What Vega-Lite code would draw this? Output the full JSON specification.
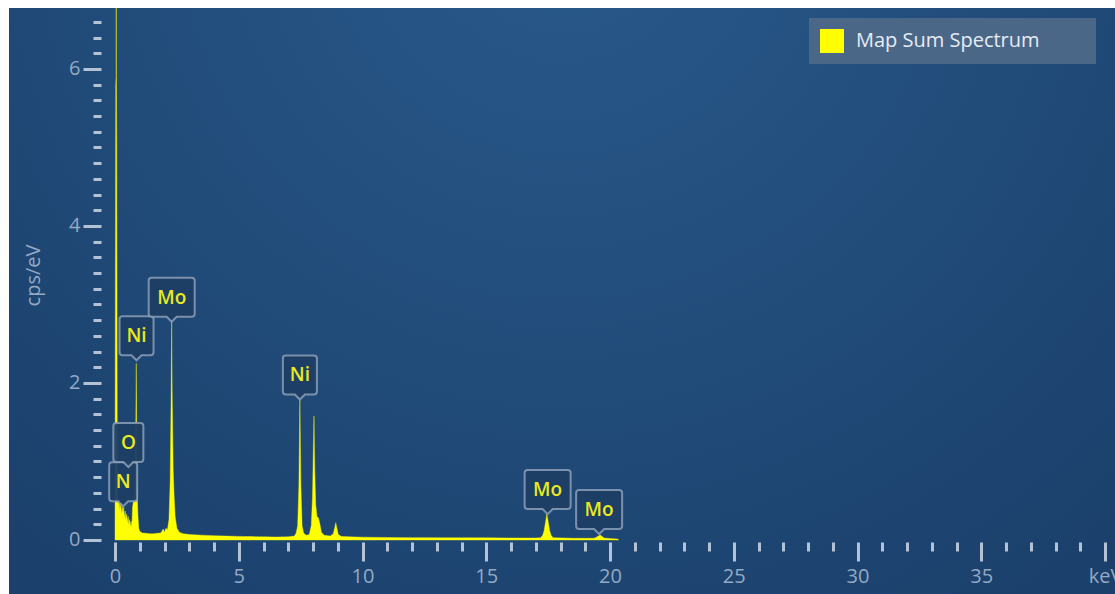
{
  "$schema": "https://vega.github.io/schema/vega-lite/v6.json",
  "width": 1106,
  "height": 586,
  "autosize": {"type": "none"},
  "padding": {"left": 9, "top": 8, "right": 0, "bottom": 0},
  "background": "white",
  "config": {
    "view": {"stroke": "#16304f", "strokeWidth": 1},
    "axis": {"grid": false, "domain": false, "labelFont": "Open Sans", "titleFont": "Open Sans"}
  },
  "datasets": {
    "spectrum": [
      {"e":0.00,"c":0.0},{"e":0.01,"c":2.5},{"e":0.03,"c":5.8},{"e":0.045,"c":5.9},{"e":0.05,"c":9.0},{"e":0.055,"c":5.9},{"e":0.07,"c":5.0},{"e":0.09,"c":1.5},
      {"e":0.11,"c":0.55},{"e":0.14,"c":0.46},{"e":0.17,"c":0.52},{"e":0.20,"c":0.38},{"e":0.23,"c":0.48},{"e":0.26,"c":0.32},
      {"e":0.29,"c":0.44},{"e":0.32,"c":0.34},{"e":0.35,"c":0.42},{"e":0.38,"c":0.28},{"e":0.41,"c":0.37},{"e":0.44,"c":0.25},
      {"e":0.47,"c":0.33},{"e":0.50,"c":0.22},{"e":0.53,"c":0.30},{"e":0.56,"c":0.19},{"e":0.59,"c":0.26},{"e":0.62,"c":0.17},
      {"e":0.65,"c":0.24},{"e":0.68,"c":0.16},{"e":0.71,"c":0.42},{"e":0.74,"c":0.48},{"e":0.77,"c":0.52},{"e":0.80,"c":0.60},
      {"e":0.83,"c":1.10},{"e":0.86,"c":2.25},{"e":0.88,"c":1.10},{"e":0.90,"c":0.55},{"e":0.93,"c":0.30},{"e":0.96,"c":0.15},
      {"e":1.00,"c":0.11},{"e":1.10,"c":0.09},{"e":1.25,"c":0.085},{"e":1.40,"c":0.08},{"e":1.55,"c":0.08},{"e":1.70,"c":0.085},
      {"e":1.85,"c":0.09},{"e":1.95,"c":0.14},{"e":2.00,"c":0.10},{"e":2.06,"c":0.15},{"e":2.12,"c":0.13},{"e":2.18,"c":0.26},
      {"e":2.23,"c":0.75},{"e":2.27,"c":1.90},{"e":2.29,"c":2.78},{"e":2.31,"c":1.90},{"e":2.35,"c":0.90},{"e":2.39,"c":0.55},
      {"e":2.43,"c":0.30},{"e":2.50,"c":0.15},{"e":2.60,"c":0.10},{"e":2.75,"c":0.08},{"e":3.00,"c":0.07},{"e":3.50,"c":0.062},
      {"e":4.00,"c":0.055},{"e":4.50,"c":0.05},{"e":5.00,"c":0.046},{"e":5.50,"c":0.043},{"e":6.00,"c":0.04},{"e":6.50,"c":0.038},
      {"e":7.00,"c":0.04},{"e":7.25,"c":0.05},{"e":7.32,"c":0.09},{"e":7.38,"c":0.18},{"e":7.43,"c":0.70},{"e":7.47,"c":1.80},
      {"e":7.51,"c":0.70},{"e":7.56,"c":0.18},{"e":7.62,"c":0.09},{"e":7.72,"c":0.06},{"e":7.85,"c":0.07},{"e":7.93,"c":0.18},
      {"e":7.98,"c":0.55},{"e":8.01,"c":1.10},{"e":8.04,"c":1.58},{"e":8.07,"c":0.90},{"e":8.11,"c":0.45},{"e":8.16,"c":0.30},
      {"e":8.22,"c":0.28},{"e":8.28,"c":0.20},{"e":8.34,"c":0.10},{"e":8.45,"c":0.06},{"e":8.70,"c":0.05},{"e":8.82,"c":0.08},
      {"e":8.88,"c":0.16},{"e":8.92,"c":0.22},{"e":8.96,"c":0.16},{"e":9.02,"c":0.07},{"e":9.15,"c":0.045},{"e":9.5,"c":0.04},
      {"e":10.0,"c":0.036},{"e":11.0,"c":0.032},{"e":12.0,"c":0.03},{"e":13.0,"c":0.029},{"e":14.0,"c":0.028},{"e":15.0,"c":0.027},
      {"e":16.0,"c":0.026},{"e":17.0,"c":0.026},{"e":17.20,"c":0.03},{"e":17.28,"c":0.06},{"e":17.34,"c":0.12},{"e":17.40,"c":0.24},
      {"e":17.45,"c":0.33},{"e":17.50,"c":0.24},{"e":17.56,"c":0.12},{"e":17.62,"c":0.06},{"e":17.70,"c":0.03},{"e":18.5,"c":0.022},
      {"e":19.35,"c":0.022},{"e":19.45,"c":0.035},{"e":19.55,"c":0.055},{"e":19.60,"c":0.065},{"e":19.66,"c":0.05},{"e":19.76,"c":0.025},
      {"e":20.0,"c":0.018},{"e":20.3,"c":0.012},{"e":20.35,"c":0}
    ],
    "labels": [
      {"el":"N","e":0.33,"c":0.43},
      {"el":"O","e":0.54,"c":0.93},
      {"el":"Ni","e":0.87,"c":2.29},
      {"el":"Mo","e":2.29,"c":2.78},
      {"el":"Ni","e":7.47,"c":1.79},
      {"el":"Mo","e":17.48,"c":0.33},
      {"el":"Mo","e":19.56,"c":0.076}
    ]
  },
  "layer": [
    {
      "data": {"values": [{}]},
      "mark": {
        "type": "rect",
        "fill": {
          "gradient": "radial",
          "x1": 0.5, "y1": 0.15, "r1": 0,
          "x2": 0.5, "y2": 0.15, "r2": 0.75,
          "stops": [
            {"offset": 0, "color": "#295a8b"},
            {"offset": 1, "color": "#1b406c"}
          ]
        }
      },
      "encoding": {}
    },
    {
      "data": {"name": "spectrum"},
      "mark": {"type": "area", "clip": true, "interpolate": "linear", "stroke": "#ffff00", "strokeWidth": 0.4, "fillOpacity": 1},
      "encoding": {
        "x": {
          "field": "e", "type": "quantitative",
          "scale": {"domain": [-4.283, 40.404], "nice": false, "zero": false},
          "axis": {
            "orient": "bottom", "offset": -52, "values": [0,5,10,15,20,25,30,35,40], "zindex": 2,
            "tickSize": 19, "tickWidth": 3, "tickColor": "#b3c2d5",
            "labelFontSize": 20, "labelColor": "#93a9c4", "labelPadding": 5,
            "labelFlush": false, "labelOverlap": false, "labelBound": false,
            "labelExpr": "datum.value == 40 ? 'keV' : datum.label",
            "title": null
          }
        },
        "y": {
          "field": "c", "type": "quantitative",
          "scale": {"domain": [-0.688, 6.777], "nice": false, "zero": false},
          "axis": {
            "orient": "left", "offset": -92, "values": [0,2,4,6], "zindex": 2,
            "tickSize": 18, "tickWidth": 3, "tickColor": "#b3c2d5",
            "labelFontSize": 20, "labelColor": "#93a9c4", "labelPadding": 3,
            "labelOverlap": false,
            "title": "cps/eV", "titleFontSize": 20, "titleFontWeight": "normal", "titleColor": "#93a9c4",
            "titleX": -62, "titleY": 267, "titleBaseline": "alphabetic", "titleAlign": "center", "titleAngle": -90
          }
        },
        "color": {
          "datum": "Map Sum Spectrum",
          "scale": {"range": ["#ffff00"]},
          "legend": {
            "orient": "none", "legendX": 800, "legendY": 10, "title": null, "zindex": 3,
            "fillColor": "#4b6788", "padding": 11, "symbolType": "square", "symbolSize": 576,
            "symbolStrokeWidth": 0, "symbolOpacity": 1, "labelLimit": 500,
            "labelFontSize": 20, "labelColor": "#e6ecf3", "labelFont": "Open Sans", "labelOffset": 12,
            "labelExpr": "datum.label + '\u2800\u2800\u2800'"
          }
        }
      }
    },
    {
      "data": {"name": "labels"},
      "mark": {"type": "point", "filled": true, "fill": "#1d3e64", "fillOpacity": 0.95, "stroke": "#8b9fb8", "strokeWidth": 2, "strokeOpacity": 0.85, "size": 4},
      "encoding": {
        "x": {
          "field": "e", "type": "quantitative",
          "axis": {
            "orient": "bottom", "offset": -52, "zindex": 2,
            "values": [1,2,3,4,6,7,8,9,11,12,13,14,16,17,18,19,21,22,23,24,26,27,28,29,31,32,33,34,36,37,38,39],
            "tickSize": 9, "tickWidth": 3, "tickColor": "#b3c2d5", "labels": false, "title": null
          }
        },
        "y": {
          "field": "c", "type": "quantitative",
          "axis": {
            "orient": "left", "offset": -92, "zindex": 2,
            "values": [0.2,0.4,0.6,0.8,1,1.2,1.4,1.6,1.8,2.2,2.4,2.6,2.8,3,3.2,3.4,3.6,3.8,4.2,4.4,4.6,4.8,5,5.2,5.4,5.6,5.8,6.2,6.4,6.6],
            "tickSize": 8, "tickWidth": 3, "tickColor": "#b3c2d5", "labels": false, "title": null
          }
        },
        "shape": {
          "field": "el", "type": "nominal", "legend": null,
          "scale": {
            "domain": ["Mo", "Ni", "O", "N"],
            "range": [
              "M-20,-44 H20 Q23,-44 23,-41 V-8 Q23,-5 20,-5 H5 L0,0 L-5,-5 H-20 Q-23,-5 -23,-8 V-41 Q-23,-44 -20,-44 Z",
              "M-14,-44 H14 Q17,-44 17,-41 V-8 Q17,-5 14,-5 H5 L0,0 L-5,-5 H-14 Q-17,-5 -17,-8 V-41 Q-17,-44 -14,-44 Z",
              "M-12,-44 H12 Q15,-44 15,-41 V-8 Q15,-5 12,-5 H5 L0,0 L-5,-5 H-12 Q-15,-5 -15,-8 V-41 Q-15,-44 -12,-44 Z",
              "M-11,-44 H11 Q14,-44 14,-41 V-8 Q14,-5 11,-5 H5 L0,0 L-5,-5 H-11 Q-14,-5 -14,-8 V-41 Q-14,-44 -11,-44 Z"
            ]
          }
        }
      }
    },
    {
      "data": {"name": "labels"},
      "mark": {"type": "text", "dy": -24, "align": "center", "baseline": "middle", "font": "Open Sans", "fontWeight": 600, "fontSize": 19, "color": "#eaea1e"},
      "encoding": {
        "x": {"field": "e", "type": "quantitative", "axis": null},
        "y": {"field": "c", "type": "quantitative", "axis": null},
        "text": {"field": "el"}
      }
    }
  ],
  "resolve": {"axis": {"x": "independent", "y": "independent"}}
}
